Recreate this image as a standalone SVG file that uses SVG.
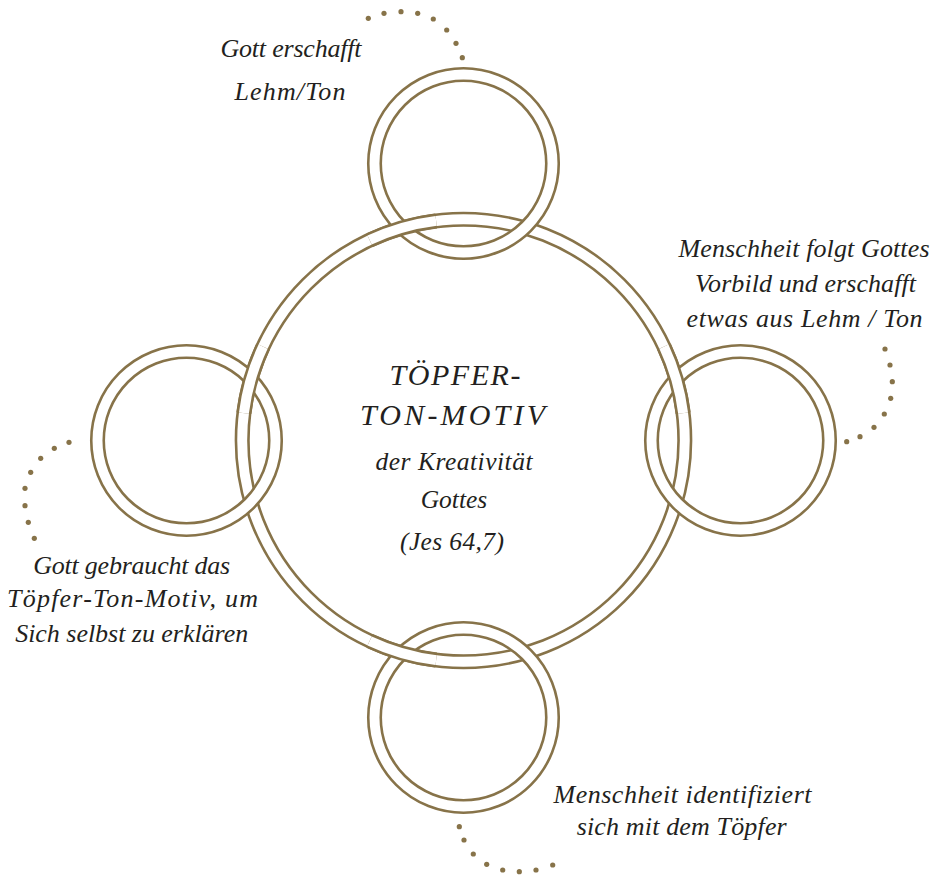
<svg xmlns="http://www.w3.org/2000/svg" width="940" height="877" viewBox="0 0 940 877">
<style>
.band{fill:none;stroke:#877349;stroke-width:15.1}
.gap{fill:none;stroke:#ffffff;stroke-width:9.9}
.dot{fill:#877349}
.lbl{font-family:"Liberation Serif","Times New Roman",serif;font-style:italic;font-size:26px;fill:#231f20;text-anchor:middle}
.title{font-family:"Liberation Serif","Times New Roman",serif;font-style:italic;font-size:30px;fill:#231f20;text-anchor:middle}
.sub{font-family:"Liberation Serif","Times New Roman",serif;font-style:italic;font-size:25.5px;fill:#231f20;text-anchor:middle}
</style>
<rect width="940" height="877" fill="#ffffff"/>
<g id="center-ring">
<circle class="band" cx="463.5" cy="440.5" r="221.3"/>
<circle class="gap" cx="463.5" cy="440.5" r="221.3"/>
</g>
<g id="ring-top">
<circle class="band" cx="463.5" cy="163.5" r="89"/>
<circle class="gap" cx="463.5" cy="163.5" r="89"/>
</g>
<g id="ring-right">
<circle class="band" cx="740.5" cy="440.5" r="89"/>
<circle class="gap" cx="740.5" cy="440.5" r="89"/>
</g>
<g id="ring-bottom">
<circle class="band" cx="463.5" cy="717.5" r="89"/>
<circle class="gap" cx="463.5" cy="717.5" r="89"/>
</g>
<g id="ring-left">
<circle class="band" cx="186.5" cy="440.5" r="89"/>
<circle class="gap" cx="186.5" cy="440.5" r="89"/>
</g>
<g id="center-ring-overlaps">
<path class="band" d="M369.62,240.09 A221.3,221.3 0 0 1 436.15,220.90 M663.91,346.62 A221.3,221.3 0 0 1 683.10,413.15 M436.15,660.10 A221.3,221.3 0 0 1 369.62,640.91 M243.90,413.15 A221.3,221.3 0 0 1 263.09,346.62"/>
<path class="gap" d="M369.62,240.09 A221.3,221.3 0 0 1 436.15,220.90 M663.91,346.62 A221.3,221.3 0 0 1 683.10,413.15 M436.15,660.10 A221.3,221.3 0 0 1 369.62,640.91 M243.90,413.15 A221.3,221.3 0 0 1 263.09,346.62"/>
</g>
<g id="connectors">
<g id="dots-top">
<circle class="dot" cx="368.3" cy="18.3" r="2.6"/>
<circle class="dot" cx="384" cy="13.3" r="2.6"/>
<circle class="dot" cx="401" cy="11.7" r="2.6"/>
<circle class="dot" cx="417.7" cy="13.3" r="2.6"/>
<circle class="dot" cx="433.3" cy="19" r="2.6"/>
<circle class="dot" cx="446.7" cy="30" r="2.6"/>
<circle class="dot" cx="456" cy="43.3" r="2.6"/>
<circle class="dot" cx="462.3" cy="57.7" r="2.6"/>
</g>
<g id="dots-right">
<circle class="dot" cx="885" cy="349" r="2.6"/>
<circle class="dot" cx="890" cy="365" r="2.6"/>
<circle class="dot" cx="892.3" cy="381.7" r="2.6"/>
<circle class="dot" cx="890.7" cy="398.3" r="2.6"/>
<circle class="dot" cx="884.3" cy="414" r="2.6"/>
<circle class="dot" cx="874" cy="427.3" r="2.6"/>
<circle class="dot" cx="860" cy="436.7" r="2.6"/>
<circle class="dot" cx="846.7" cy="441.7" r="2.6"/>
</g>
<g id="dots-left">
<circle class="dot" cx="69" cy="442.3" r="2.6"/>
<circle class="dot" cx="54.3" cy="448.3" r="2.6"/>
<circle class="dot" cx="40.7" cy="458.3" r="2.6"/>
<circle class="dot" cx="30.7" cy="472.3" r="2.6"/>
<circle class="dot" cx="25" cy="488.3" r="2.6"/>
<circle class="dot" cx="25" cy="505.7" r="2.6"/>
<circle class="dot" cx="28.3" cy="522.3" r="2.6"/>
<circle class="dot" cx="34.3" cy="538.3" r="2.6"/>
</g>
<g id="dots-bottom">
<circle class="dot" cx="459.3" cy="826.7" r="2.6"/>
<circle class="dot" cx="464" cy="840" r="2.6"/>
<circle class="dot" cx="473.3" cy="854" r="2.6"/>
<circle class="dot" cx="486.7" cy="864.3" r="2.6"/>
<circle class="dot" cx="502.7" cy="870" r="2.6"/>
<circle class="dot" cx="519.3" cy="871.7" r="2.6"/>
<circle class="dot" cx="536" cy="870" r="2.6"/>
<circle class="dot" cx="552.7" cy="865" r="2.6"/>
</g>
</g>
<g id="label-center">
<text class="title" x="455" y="385" textLength="131" lengthAdjust="spacing">TÖPFER-</text>
<text class="title" x="452.5" y="425" textLength="185" lengthAdjust="spacing">TON-MOTIV</text>
<text class="sub" x="454" y="470" textLength="157" lengthAdjust="spacing">der Kreativität</text>
<text class="sub" x="454" y="508">Gottes</text>
<text class="sub" x="452" y="550" textLength="104" lengthAdjust="spacing">(Jes 64,7)</text>
</g>
<g id="label-top">
<text class="lbl" x="291" y="57" textLength="141" lengthAdjust="spacing">Gott erschafft</text>
<text class="lbl" x="290" y="100" textLength="111" lengthAdjust="spacing">Lehm/Ton</text>
</g>
<g id="label-right">
<text class="lbl" x="804" y="257" textLength="251" lengthAdjust="spacing">Menschheit folgt Gottes</text>
<text class="lbl" x="805.5" y="292" textLength="221" lengthAdjust="spacing">Vorbild und erschafft</text>
<text class="lbl" x="804.5" y="327" textLength="236" lengthAdjust="spacing">etwas aus Lehm / Ton</text>
</g>
<g id="label-left">
<text class="lbl" x="131.7" y="574" textLength="197" lengthAdjust="spacing">Gott gebraucht das</text>
<text class="lbl" x="132.5" y="607" textLength="251" lengthAdjust="spacing">Töpfer-Ton-Motiv, um</text>
<text class="lbl" x="131.7" y="642" textLength="233" lengthAdjust="spacing">Sich selbst zu erklären</text>
</g>
<g id="label-bottom">
<text class="lbl" x="682.5" y="803" textLength="258" lengthAdjust="spacing">Menschheit identifiziert</text>
<text class="lbl" x="681.7" y="835" textLength="210" lengthAdjust="spacing">sich mit dem Töpfer</text>
</g>
</svg>
